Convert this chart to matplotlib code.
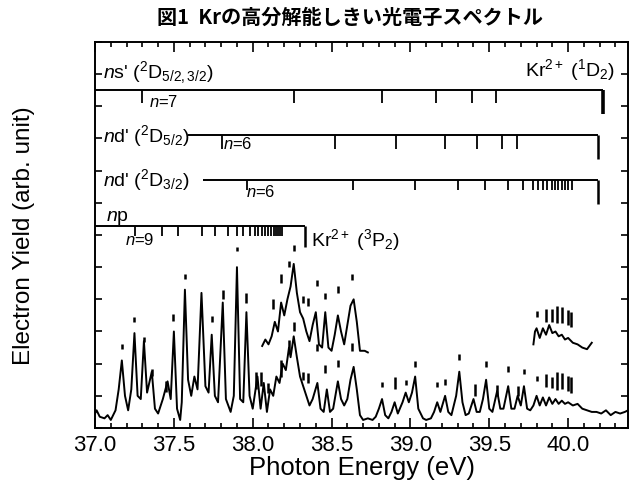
import matplotlib
matplotlib.use("Agg")
import matplotlib.pyplot as plt
from matplotlib.ticker import MultipleLocator, NullFormatter

plt.rcParams["font.family"] = ["Liberation Sans", "DejaVu Sans"]
plt.rcParams["mathtext.fontset"] = "custom"
plt.rcParams["mathtext.rm"] = "Liberation Sans"
plt.rcParams["mathtext.it"] = "Liberation Sans:italic"

# main spectrum (photon energy in eV, yield in arb. unit)
spec_e = [37.00, 37.01, 37.03, 37.06, 37.08, 37.10, 37.13, 37.15, 37.17, 37.19,
          37.21, 37.23, 37.25, 37.27, 37.29, 37.31, 37.33, 37.36, 37.38, 37.40,
          37.43, 37.46, 37.48, 37.50, 37.52, 37.54, 37.55, 37.57, 37.59, 37.61,
          37.63, 37.65, 37.675, 37.70, 37.72, 37.74, 37.76, 37.78, 37.81, 37.83,
          37.86, 37.88, 37.90, 37.92, 37.94, 37.96, 37.98, 38.00, 38.03, 38.05,
          38.07, 38.09, 38.11, 38.13, 38.15, 38.17, 38.19, 38.21, 38.23, 38.24,
          38.26, 38.28, 38.30, 38.32, 38.34, 38.36, 38.38, 38.41, 38.43, 38.45,
          38.47, 38.49, 38.51, 38.54, 38.56, 38.58, 38.60, 38.62, 38.64, 38.66,
          38.68, 38.70, 38.73, 38.76, 38.78, 38.80, 38.82, 38.84, 38.86, 38.88,
          38.90, 38.92, 38.95, 38.97, 38.99, 39.01, 39.03, 39.05, 39.08, 39.10,
          39.13, 39.15, 39.17, 39.19, 39.22, 39.24, 39.26, 39.29, 39.31, 39.33,
          39.35, 39.37, 39.40, 39.42, 39.44, 39.46, 39.48, 39.50, 39.52, 39.55,
          39.57, 39.59, 39.62, 39.64, 39.66, 39.68, 39.70, 39.72, 39.74, 39.76,
          39.78, 39.80, 39.82, 39.84, 39.86, 39.88, 39.90, 39.92, 39.94, 39.96,
          39.98, 40.00, 40.03, 40.06, 40.09, 40.12, 40.15, 40.18, 40.21, 40.24,
          40.27, 40.30, 40.33, 40.36, 40.38]
spec_y = [0.45, 0.55, 0.35, 0.30, 0.40, 0.25, 0.55, 1.20, 2.10, 1.00,
          0.55, 1.20, 2.95, 1.00, 0.90, 2.70, 1.10, 1.75, 0.60, 0.45,
          0.90, 1.45, 0.90, 3.00, 0.60, 0.25, 0.80, 4.30, 1.50, 1.00,
          1.60, 1.20, 4.20, 1.30, 1.10, 2.90, 1.00, 0.80, 3.90, 0.90,
          0.50, 1.00, 5.00, 0.90, 0.80, 3.60, 1.00, 0.60, 1.60, 0.60,
          1.40, 0.50, 1.20, 1.00, 1.60, 1.40, 2.00, 1.80, 2.50, 2.20,
          2.85, 2.20, 1.60, 1.30, 1.00, 0.70, 0.90, 1.40, 0.60, 0.50,
          1.20, 0.50, 0.60, 1.45, 0.90, 0.70, 0.90, 1.50, 1.90, 1.20,
          0.40, 0.25, 0.30, 0.25, 0.35, 0.60, 0.90, 0.40, 0.30, 0.50,
          0.80, 0.45, 0.80, 1.10, 0.80, 1.10, 1.60, 0.60, 0.30, 0.25,
          0.30, 0.50, 0.80, 0.50, 1.00, 0.50, 0.40, 1.00, 1.75, 0.80,
          0.40, 0.45, 0.90, 0.50, 0.50, 0.90, 1.50, 0.60, 0.50, 1.15,
          0.60, 0.60, 1.30, 0.60, 0.60, 1.00, 0.70, 1.30, 0.60, 0.55,
          0.70, 1.00, 0.70, 0.95, 0.70, 0.95, 0.75, 0.90, 0.75, 0.85,
          0.75, 0.80, 0.70, 0.75, 0.60, 0.55, 0.50, 0.50, 0.45, 0.55,
          0.40, 0.50, 0.45, 0.50, 0.55]

# raised traces of the 38.1-38.7 eV and 39.8-40.1 eV regions
up1_e = [38.06, 38.08, 38.10, 38.12, 38.14, 38.16, 38.18, 38.20, 38.22, 38.24,
         38.26, 38.28, 38.30, 38.32, 38.34, 38.36, 38.38, 38.40, 38.42, 38.44,
         38.46, 38.48, 38.50, 38.52, 38.54, 38.56, 38.58, 38.60, 38.62, 38.64,
         38.66, 38.68, 38.71, 38.73]
up1_y = [2.55, 2.75, 2.60, 2.85, 3.30, 3.00, 3.90, 3.50, 4.00, 4.40,
         5.10, 4.20, 3.60, 3.40, 3.00, 2.70, 3.20, 3.60, 2.60, 2.50,
         3.60, 2.50, 2.40, 2.90, 3.50, 3.00, 2.60, 3.20, 3.80, 4.00,
         3.30, 2.40, 2.40, 2.35]
up2_e = [39.78, 39.79, 39.80, 39.82, 39.84, 39.86, 39.88, 39.90, 39.92, 39.94,
         39.96, 39.98, 40.00, 40.03, 40.06, 40.09, 40.12, 40.15]
up2_y = [2.60, 3.00, 3.10, 2.80, 3.10, 2.90, 3.20, 2.95, 3.00, 2.85,
         2.90, 2.75, 2.80, 2.65, 2.60, 2.50, 2.45, 2.65]

# assignment bars above the peaks: energy, lower end, upper end
mark_e = [37.17, 37.25, 37.31, 37.36, 37.45, 37.495, 37.57, 37.74, 37.81, 37.90,
          37.96, 38.02, 38.05, 38.10,
          38.13, 38.18, 38.23, 38.26, 38.32, 38.35, 38.41, 38.46, 38.54, 38.63,
          38.18, 38.23, 38.26, 38.32, 38.35, 38.41, 38.46, 38.54, 38.63,
          38.82, 38.90, 38.97, 39.03, 39.17, 39.22, 39.31, 39.41, 39.48, 39.55,
          39.62, 39.68, 39.72,
          39.80, 39.86, 39.90, 39.93, 39.96, 40.00, 40.02,
          39.80, 39.86, 39.90, 39.93, 39.96, 40.00, 40.02]
mark_lo = [2.46, 3.30, 2.67, 1.62, 1.12, 3.33, 4.63, 3.30, 4.00, 5.50,
           3.90, 1.20, 1.30, 1.10,
           3.70, 4.50, 5.00, 5.50, 3.90, 3.80, 4.40, 4.00, 4.20, 4.60,
           1.60, 2.40, 3.00, 1.50, 1.40, 2.40, 1.70, 1.90, 2.40,
           1.27, 1.20, 1.33, 1.90, 1.27, 1.33, 2.10, 1.00, 1.90, 0.98,
           1.74, 1.00, 1.68,
           1.46, 1.27, 1.24, 1.18, 1.22, 1.15, 1.10,
           3.45, 3.30, 3.30, 3.25, 3.25, 3.20, 3.15]
mark_hi = [2.61, 3.45, 2.83, 1.83, 1.46, 3.54, 4.79, 3.48, 4.30, 5.62,
           4.20, 1.75, 1.75, 1.40,
           4.00, 4.80, 5.20, 5.70, 4.10, 4.05, 4.60, 4.20, 4.40, 4.80,
           2.10, 2.75, 3.30, 1.75, 1.70, 2.60, 1.95, 2.10, 2.65,
           1.43, 1.60, 1.49, 2.08, 1.43, 1.53, 2.30, 1.37, 2.08, 1.34,
           1.93, 1.30, 1.83,
           1.62, 1.68, 1.60, 1.74, 1.70, 1.62, 1.58,
           3.64, 3.70, 3.70, 3.80, 3.75, 3.68, 3.62]

# Rydberg series ladders
ns_levels = [37.30, 38.26, 38.82, 39.16, 39.39, 39.54]
ns_limit = 40.22
nd52_levels = [37.805, 38.52, 38.91, 39.22, 39.42, 39.58, 39.676]
nd52_limit = 40.19
nd32_levels = [37.964, 38.636, 39.03, 39.30, 39.473, 39.62, 39.714, 39.777,
               39.81, 39.84, 39.866, 39.898, 39.917, 39.936, 39.96, 39.98,
               39.999, 40.025]
nd32_limit = 40.19
np_levels = [37.254, 37.425, 37.526, 37.678, 37.761, 37.843, 37.90, 37.94,
             37.98, 38.015, 38.034, 38.06, 38.08, 38.097, 38.116, 38.135,
             38.148, 38.16, 38.173, 38.186]
np_limit = 38.33

fig = plt.figure(figsize=(6.31, 4.89), dpi=100)
ax = fig.add_axes([0.1506, 0.1227, 0.8447, 0.7894])

ax.plot(spec_e, spec_y, color="black", lw=1.4)
ax.plot(up1_e, up1_y, color="black", lw=1.4)
ax.plot(up2_e, up2_y, color="black", lw=1.4)
ax.vlines(mark_e, mark_lo, mark_hi, color="black", lw=1.8)


def ladder(y, start, levels, limit, tick_len, limit_len, limit_lw):
    ax.hlines(y, start, limit, color="black", lw=1.4)
    ax.vlines(levels, y - tick_len, y, color="black", lw=1.3)
    ax.vlines(limit, y - limit_len, y, color="black", lw=limit_lw)


ladder(10.51, 37.0, ns_levels, ns_limit, 0.42, 0.75, 2.6)
ladder(9.11, 37.59, nd52_levels, nd52_limit, 0.45, 0.75, 1.8)
ladder(7.71, 37.685, nd32_levels, nd32_limit, 0.32, 0.75, 1.8)
ladder(6.28, 37.0, np_levels, np_limit, 0.32, 0.65, 1.8)

fs = 14
ax.text(37.05, 11.07, r"$\mathit{n}$s' ($^{2}$D$_{5/2,3/2}$)", fontsize=fs, va="center")
ax.text(40.30, 11.16, r"Kr$^{2+}$ ($^{1}$D$_{2}$)", fontsize=fs, va="center", ha="right")
ax.text(37.05, 9.11, r"$\mathit{n}$d' ($^{2}$D$_{5/2}$)", fontsize=fs, va="center")
ax.text(37.05, 7.74, r"$\mathit{n}$d' ($^{2}$D$_{3/2}$)", fontsize=fs, va="center")
ax.text(37.07, 6.56, r"$\mathit{n}$p", fontsize=fs, va="center")
ax.text(38.37, 5.87, r"Kr$^{2+}$ ($^{3}$P$_{2}$)", fontsize=fs, va="center")
ax.text(37.34, 10.18, r"$\mathit{n}$=7", fontsize=12, va="center")
ax.text(37.81, 8.87, r"$\mathit{n}$=6", fontsize=12, va="center")
ax.text(37.96, 7.38, r"$\mathit{n}$=6", fontsize=12, va="center")
ax.text(37.19, 5.87, r"$\mathit{n}$=9", fontsize=12, va="center")

ax.set_xlim(37.0, 40.38)
ax.set_ylim(0, 12)
ax.xaxis.set_major_locator(MultipleLocator(0.5))
ax.xaxis.set_minor_locator(MultipleLocator(0.1))
ax.yaxis.set_major_locator(MultipleLocator(1))
ax.yaxis.set_major_formatter(NullFormatter())
ax.tick_params(which="both", direction="in", top=True, right=True, width=1.2)
ax.tick_params(which="major", axis="x", length=7, labelsize=16, pad=4)
ax.tick_params(which="minor", axis="x", length=3.5)
ax.tick_params(which="major", axis="y", length=5)
for s in ax.spines.values():
    s.set_linewidth(1.4)

ax.set_xlabel("Photon Energy (eV)", fontsize=18.5, labelpad=0)
ax.set_ylabel("Electron Yield (arb. unit)", fontsize=17.5, labelpad=0)
ax.yaxis.set_label_coords(-0.112, 0.5)

fig.text(0.555, 0.964, "図1  Krの高分解能しきい光電子スペクトル",
         family=["Noto Sans CJK JP", "DejaVu Sans"], fontweight="bold",
         fontsize=14.5, ha="center", va="center")

fig.savefig("out.png", dpi=100)
